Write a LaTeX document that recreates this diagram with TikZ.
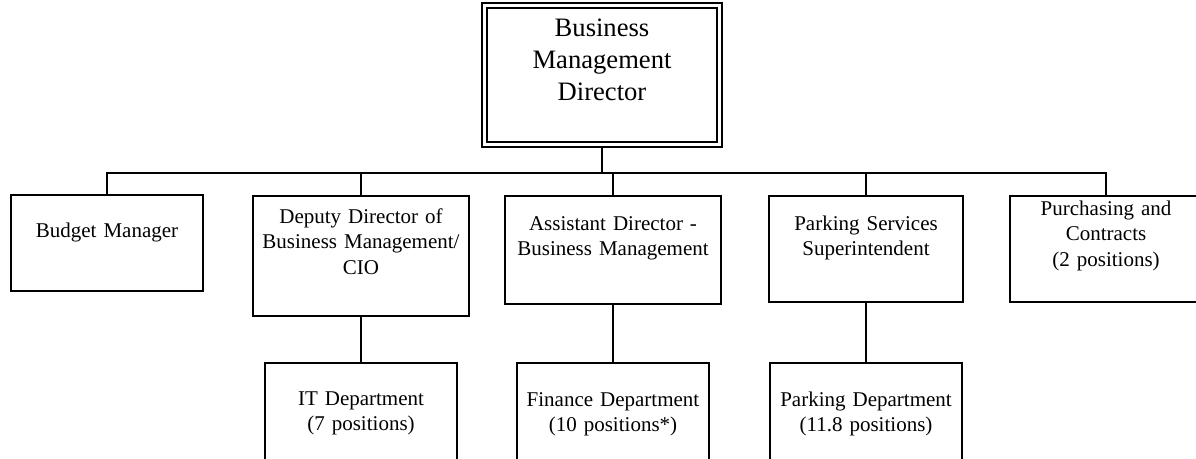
\documentclass[tikz,border=0pt]{standalone}
\usepackage{fontspec}
\setmainfont{Liberation Serif}
\begin{document}
\begin{tikzpicture}[x=1pt,y=-1pt,
  box/.style={draw=black, line width=2pt, inner sep=0pt, fill=white},
  topbox/.style={draw=black, line width=2pt, double=white, double distance=3pt,
    inner sep=0pt, outer sep=3.5pt},
  lbl/.style={font=\fontsize{21}{25.5}\selectfont, align=center, text width=214pt,
    inner sep=0pt, anchor=base},
  conn/.style={draw=black, line width=2pt}]
\clip (0,0) rectangle (1196,458);
\fill[white] (0,0) rectangle (1196,458);
% top
\node[topbox, minimum width=235pt, minimum height=139pt] (top) at (602,75) {};
\node[lbl, font=\fontsize{26.6}{32}\selectfont] (topT) at (602,36) {Business\\Management\\Director};
% second level
\node[box, minimum width=192pt, minimum height=96pt] (budget) at (107,243) {};
\node[lbl] (budgetT) at (107,237) {Budget Manager};
\node[box, minimum width=216pt, minimum height=120pt] (deputy) at (361,256) {};
\node[lbl] (deputyT) at (361,223) {Deputy Director of\\Business Management/\\CIO};
\node[box, minimum width=216pt, minimum height=108pt] (assist) at (613,250) {};
\node[lbl] (assistT) at (613,230) {Assistant Director -\\Business Management};
\node[box, minimum width=194pt, minimum height=106pt] (parks) at (866,249) {};
\node[lbl] (parksT) at (866,230) {Parking Services\\Superintendent};
\node[box, minimum width=192pt, minimum height=106pt] (purch) at (1106,249) {};
\node[lbl] (purchT) at (1106,215) {Purchasing and\\Contracts\\(2 positions)};
% third level
\node[box, minimum width=192pt, minimum height=130pt] (it) at (361,428) {};
\node[lbl] (itT) at (361,405) {IT Department\\(7 positions)};
\node[box, minimum width=192pt, minimum height=130pt] (fin) at (613,428) {};
\node[lbl] (finT) at (613,406) {Finance Department\\(10 positions*)};
\node[box, minimum width=192pt, minimum height=130pt] (parkd) at (866,428) {};
\node[lbl] (parkdT) at (866,406) {Parking Department\\(11.8 positions)};
% connectors
\coordinate (bus) at (602,173);
\draw[conn] (top.south) -- (bus);
\draw[conn] (budget.north) |- (bus) -| (purch.north);
\draw[conn] (deputy.north) -- (deputy.north |- bus);
\draw[conn] (assist.north) -- (assist.north |- bus);
\draw[conn] (parks.north) -- (parks.north |- bus);
\draw[conn] (deputy.south) -- (it.north);
\draw[conn] (assist.south) -- (fin.north);
\draw[conn] (parks.south) -- (parkd.north);
\end{tikzpicture}
\end{document}
